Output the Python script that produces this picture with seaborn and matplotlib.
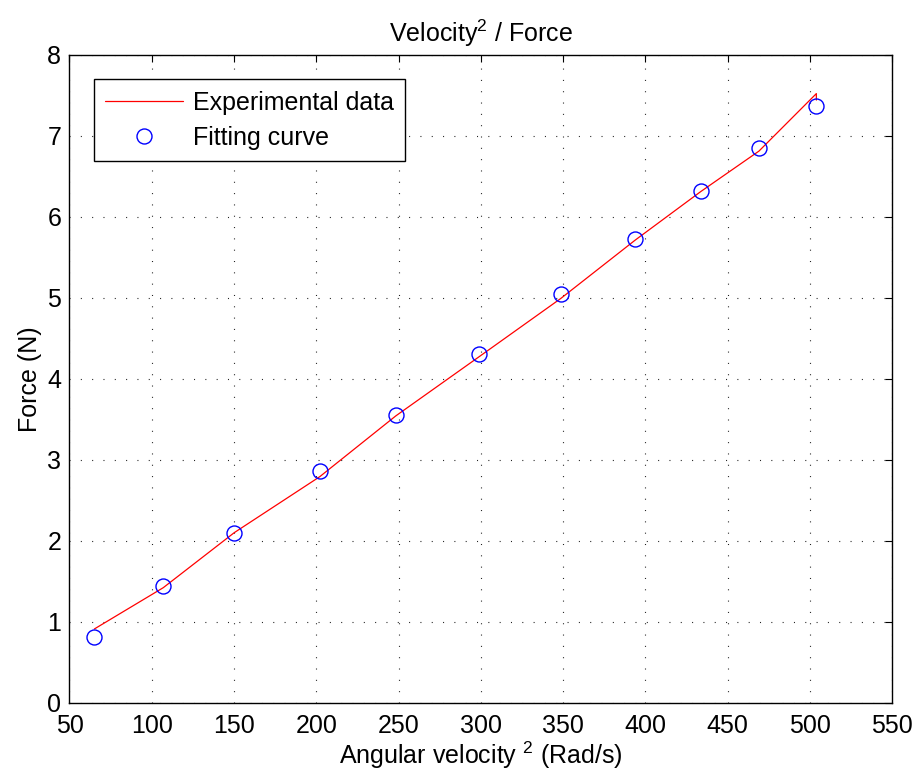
import matplotlib
matplotlib.use("Agg")
import matplotlib.pyplot as plt
import seaborn as sns
import pandas as pd

# Measured samples (line) and fitted values (circles)
omega_sq = [65.1, 107.0, 150.2, 202.1, 248.3, 298.9, 348.6, 393.8, 433.7, 469.1, 504.0, 504.0]
force_exp = [0.91, 1.42, 2.10, 2.79, 3.54, 4.27, 4.99, 5.71, 6.31, 6.81, 7.52, 7.44]

fit_x = [65.1, 107.0, 150.2, 202.1, 248.3, 298.9, 348.6, 393.8, 433.7, 469.1, 504.0]
fit_y = [0.816, 1.44, 2.09, 2.86, 3.55, 4.31, 5.05, 5.73, 6.32, 6.85, 7.37]

x_ticks = [50, 100, 150, 200, 250, 300, 350, 400, 450, 500, 550]
y_ticks = [0, 1, 2, 3, 4, 5, 6, 7, 8]

sns.set_style("white")
plt.rcParams["font.family"] = ["Liberation Sans", "DejaVu Sans"]
plt.rcParams["mathtext.fontset"] = "custom"
plt.rcParams["mathtext.rm"] = "Liberation Sans"
plt.rcParams["mathtext.it"] = "Liberation Sans:italic"
plt.rcParams["lines.scale_dashes"] = False
for key in ("text.color", "axes.labelcolor", "xtick.color", "ytick.color"):
    plt.rcParams[key] = "black"

fs = 18
fig = plt.figure(figsize=(9.18, 7.84), dpi=100)
ax = fig.add_axes([0.0757, 0.1037, 0.8960, 0.8265])

exp_df = pd.DataFrame({"x": omega_sq, "y": force_exp})
fit_df = pd.DataFrame({"x": fit_x, "y": fit_y})

sns.lineplot(data=exp_df, x="x", y="y", ax=ax, color="red", linewidth=0.9,
             sort=False, estimator=None, label="Experimental data")
ax.plot(fit_df["x"], fit_df["y"], linestyle="none", marker="o", markersize=10.8,
        markerfacecolor="none", markeredgecolor="blue", markeredgewidth=1.0,
        label="Fitting curve")

ax.set_xlim(50, 550)
ax.set_ylim(0, 8)
ax.set_xticks(x_ticks)
ax.set_yticks(y_ticks)
ax.tick_params(direction="in", length=5, width=0.8, top=True, right=True,
               labelsize=fs, colors="black")
ax.tick_params(axis="x", pad=8)
ax.tick_params(axis="y", pad=6)
for s in ax.spines.values():
    s.set_color("black")
    s.set_linewidth(1.0)

ax.grid(True, color="#222222", linewidth=0.8, linestyle=(0, (0.75, 7.4)))
ax.set_axisbelow(True)

ax.set_title("Velocity$^2$ / Force", fontsize=fs, pad=9, color="black")
ax.set_xlabel("Angular velocity $^2$ (Rad/s)", fontsize=fs, labelpad=1)
ax.set_ylabel("Force (N)", fontsize=fs, labelpad=4)

leg = ax.legend(loc="upper left", bbox_to_anchor=(0.0298, 0.962), fontsize=fs,
                frameon=True, fancybox=False, edgecolor="black", framealpha=1,
                borderaxespad=0, handlelength=3.1, handletextpad=0.4,
                borderpad=0.45, labelspacing=0.45)
leg.get_frame().set_linewidth(1.0)
for t in leg.get_texts():
    t.set_color("black")

fig.savefig("out.png", dpi=100)
